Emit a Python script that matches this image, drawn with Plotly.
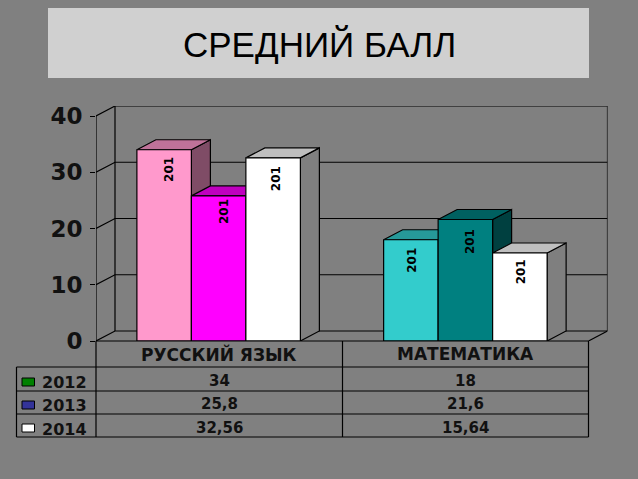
import plotly.graph_objects as go

# Data
subjects = ["РУССКИЙ ЯЗЫК", "МАТЕМАТИКА"]
years = ["2012", "2013", "2014"]
scores_2012 = [34, 18]
scores_2013 = [25.8, 21.6]
scores_2014 = [32.56, 15.64]
score_labels_2012 = ["34", "18"]
score_labels_2013 = ["25,8", "21,6"]
score_labels_2014 = ["32,56", "15,64"]
colors_2012 = ["#FF99CC", "#33CCCC"]
colors_2013 = ["#FF00FF", "#008080"]
colors_2014 = ["#FFFFFF", "#FFFFFF"]
key_colors = ["#008000", "#333399", "#FFFFFF"]
y_ticks = [0, 10, 20, 30, 40]
bar_label = "201"

W, H = 638, 479
BG = "#808080"
FONT = "DejaVu Sans"

# Pixel layout of the plot
LEFT, FRONT_RIGHT, BACK_RIGHT = 96, 588.5, 607.5
BOTTOM, TOP = 341, 106
PX_PER_UNIT = 5.625
CAT_PX = (FRONT_RIGHT - LEFT) / 2
DX = (BACK_RIGHT - FRONT_RIGHT) / CAT_PX
DY = 10 / PX_PER_UNIT
BAR_W = 0.2213
GROUP_CENTERS = [0.498, 1.5]
X_MAX = 2 + DX
Y_MAX = (BOTTOM - TOP) / PX_PER_UNIT


def px(x):
    return x / W


def py(y):
    return 1 - y / H


def shade(color, k):
    r, g, b = (int(color[i:i + 2], 16) for i in (1, 3, 5))
    return f"rgb({int(r * k)},{int(g * k)},{int(b * k)})"


fig = go.Figure()

# Back wall, floor and side wall
wall_x, wall_y = [], []
for v in y_ticks:
    wall_x += [0, DX, X_MAX, None]
    wall_y += [v, v + DY, v + DY, None]
wall_x += [0, 0, None, DX, DX, None, X_MAX, X_MAX, None, 2, X_MAX, None]
wall_y += [0, 40, None, DY, 40 + DY, None, DY, 40 + DY, None, 0, DY, None]
fig.add_trace(go.Scatter(x=wall_x, y=wall_y, mode="lines", cliponaxis=False,
                         line=dict(color="black", width=1.2),
                         showlegend=False, hoverinfo="skip"))

# Side and top faces sit on the base axes, under the bars
series = [(scores_2012, colors_2012, -1), (scores_2013, colors_2013, 0), (scores_2014, colors_2014, 1)]
for g in range(2):
    for values, colors, slot in series:
        v = values[g]
        x0 = GROUP_CENTERS[g] + slot * BAR_W - BAR_W / 2
        x1 = x0 + BAR_W
        fig.add_trace(go.Scatter(x=[x1, x1 + DX, x1 + DX, x1, x1], y=[0, DY, v + DY, v, 0],
                                 mode="lines", fill="toself", fillcolor=shade(colors[g], 0.5),
                                 line=dict(color="black", width=1.2), cliponaxis=False,
                                 showlegend=False, hoverinfo="skip"))
        fig.add_trace(go.Scatter(x=[x0, x1, x1 + DX, x0 + DX, x0], y=[v, v, v + DY, v + DY, v],
                                 mode="lines", fill="toself", fillcolor=shade(colors[g], 0.75),
                                 line=dict(color="black", width=1.2), cliponaxis=False,
                                 showlegend=False, hoverinfo="skip"))

# Front faces on an overlaying axis pair so they cover the side faces
label_nudge = [[0.02, 0.004], [0.02, 0.018], [0.012, 0.006]]
label_drop = [1.0, 0.2, 1.2, 1.0, 1.3, 0.8]
for i, (values, colors, slot) in enumerate(series):
    fig.add_trace(go.Bar(x=[c + slot * BAR_W for c in GROUP_CENTERS], y=values, width=BAR_W,
                         marker=dict(color=colors, line=dict(color="black", width=1.2)),
                         name=years[i], xaxis="x2", yaxis="y2", showlegend=False))
    for g in range(2):
        fig.add_annotation(x=GROUP_CENTERS[g] + slot * BAR_W + label_nudge[i][g], xref="x",
                           y=values[g] - label_drop[g * 3 + i], yref="y", yanchor="top",
                           text=f"<b>{bar_label}</b>", textangle=-90, showarrow=False,
                           font=dict(family=FONT, size=12, color="black"))

shapes = [
    # Title panel
    dict(type="rect", xref="paper", yref="paper", x0=px(48), x1=px(589), y0=py(78), y1=py(8),
         fillcolor="#D0D0D0", line=dict(width=0), layer="below"),
]

# Data table grid
TABLE_LINES = [
    (LEFT, 341, LEFT, 437), (342.5, 341, 342.5, 437), (FRONT_RIGHT, 341, FRONT_RIGHT, 437),
    (16.5, 367, 16.5, 437), (16.5, 367, FRONT_RIGHT, 367), (16.5, 391, FRONT_RIGHT, 391),
    (16.5, 414, FRONT_RIGHT, 414), (16.5, 437, FRONT_RIGHT, 437), (LEFT, 341, FRONT_RIGHT, 341),
]
for x0, y0, x1, y1 in TABLE_LINES:
    shapes.append(dict(type="line", xref="paper", yref="paper", x0=px(x0), x1=px(x1), y0=py(y0), y1=py(y1),
                       line=dict(color="black", width=1.2)))

row_mid = [381, 404, 428]
key_tops = [378, 401, 424]
for top, color in zip(key_tops, key_colors):
    shapes.append(dict(type="rect", xref="paper", yref="paper", x0=px(22), x1=px(34.5), y0=py(top + 8), y1=py(top),
                       fillcolor=color, line=dict(color="black", width=1)))


def table_text(x, y, text, size=15, xanchor="center"):
    fig.add_annotation(x=px(x), y=py(y), xref="paper", yref="paper", text=f"<b>{text}</b>", showarrow=False,
                       xanchor=xanchor, yanchor="middle", font=dict(family=FONT, size=size, color="#111111"))


rows = [score_labels_2012, score_labels_2013, score_labels_2014]
for g, name in enumerate(subjects):
    cx = LEFT + CAT_PX * (g + 0.5)
    table_text(cx - 0.5 if g == 0 else cx + 0.5, 354, name, size=17)
    for labels, y in zip(rows, row_mid):
        table_text(cx, y, labels[g])
for year, y in zip(years, row_mid):
    table_text(40, y + 1, year, size=16, xanchor="left")

fig.add_annotation(x=px(319), y=py(44.5), xref="paper", yref="paper", text="СРЕДНИЙ БАЛЛ", showarrow=False,
                   xanchor="center", yanchor="middle",
                   font=dict(family="Liberation Sans", size=35, color="black"))

axis_domain_x = [px(LEFT), px(BACK_RIGHT)]
axis_domain_y = [py(BOTTOM), py(TOP)]
fig.update_layout(
    width=W,
    height=H,
    margin=dict(l=0, r=0, t=0, b=0, pad=0),
    paper_bgcolor=BG,
    plot_bgcolor=BG,
    barmode="overlay",
    shapes=shapes,
    showlegend=False,
    xaxis=dict(domain=axis_domain_x, range=[0, X_MAX], showgrid=False, zeroline=False,
               showticklabels=False, ticks="", automargin=False),
    yaxis=dict(domain=axis_domain_y, range=[0, Y_MAX], tickvals=y_ticks, showgrid=False, zeroline=False,
               ticks="outside", ticklen=5, tickcolor="black", tickwidth=1.2, automargin=False,
               ticklabelstandoff=3, tickfont=dict(family=FONT, size=23, color="#111111", weight="bold")),
    xaxis2=dict(domain=axis_domain_x, range=[0, X_MAX], overlaying="x", visible=False),
    yaxis2=dict(domain=axis_domain_y, range=[0, Y_MAX], overlaying="y", visible=False),
)

fig.write_html("out.html", config=dict(displayModeBar=False),
               post_script="document.body.style.margin='0';document.body.style.background='#808080';")
